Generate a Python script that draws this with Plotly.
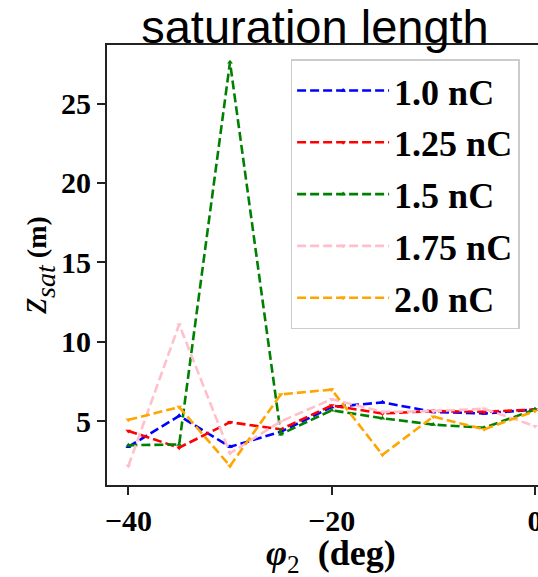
import plotly.graph_objects as go

# Phase scan (deg) and saturation length (m) for each bunch charge
phi2 = [-40, -35, -30, -25, -20, -15, -10, -5, 0]

z_sat_1p0 = [3.4, 5.35, 3.4, 4.35, 5.9, 6.2, 5.6, 5.5, 5.75]
z_sat_1p25 = [4.4, 3.35, 4.95, 4.5, 6.0, 5.5, 5.65, 5.6, 5.75]
z_sat_1p5 = [3.5, 3.55, 27.6, 4.2, 5.7, 5.2, 4.8, 4.6, 5.75]
z_sat_1p75 = [2.2, 11.1, 3.0, 5.0, 6.4, 5.6, 5.65, 5.8, 4.7]
z_sat_2p0 = [5.1, 5.9, 2.2, 6.7, 7.0, 2.9, 5.3, 4.5, 5.65]

labels = ["1.0 nC", "1.25 nC", "1.5 nC", "1.75 nC", "2.0 nC"]
series = [z_sat_1p0, z_sat_1p25, z_sat_1p5, z_sat_1p75, z_sat_2p0]
colors = ["blue", "red", "green", "pink", "orange"]
symbols = ["triangle-up", "triangle-down", "triangle-up", "triangle-down", "triangle-down"]

x_ticks = [-40, -20, 0]
y_ticks = [5, 10, 15, 20, 25]

fig = go.Figure()
for name, ys, col, sym in zip(labels, series, colors, symbols):
    fig.add_trace(go.Scatter(
        x=phi2, y=ys, name=name, mode="lines+markers",
        legendgroup=name,
        line=dict(color=col, width=2.6, dash="9px,4px"),
        marker=dict(symbol=sym, size=5, color=col),
    ))

serif = "Liberation Serif"
axis_common = dict(
    showline=True, linecolor="#222222", linewidth=2,
    ticks="outside", ticklen=8, tickwidth=1.5, tickcolor="#222222",
    showgrid=False, zeroline=False, automargin=False,
    ticklabeloverflow="allow",
    tickfont=dict(family=serif, size=30, color="black", weight="bold"),
)

fig.update_layout(
    width=538, height=577,
    template="none",
    paper_bgcolor="white", plot_bgcolor="white",
    margin=dict(l=107, r=0, t=45, b=92),
    xaxis=dict(range=[-42.1, 0.3], tickvals=x_ticks, mirror=True, **axis_common),
    yaxis=dict(range=[1.0, 28.68], tickvals=y_ticks, mirror=False, **axis_common),
    title=dict(
        text="saturation length",
        font=dict(family="Liberation Sans", size=47, color="black"),
        x=0.4826, xref="paper", xanchor="center",
        y=1 - 27 / 577, yref="container", yanchor="middle",
    ),
    legend=dict(
        x=0.426, y=0.968, xanchor="left", yanchor="top",
        bgcolor="white", bordercolor="#cccccc", borderwidth=1.5,
        font=dict(family=serif, size=36, color="black", weight="bold"),
        tracegroupgap=2, itemwidth=92,
    ),
    showlegend=True,
)

fig.add_annotation(
    text=('<span style="font-size:40px"><i>z</i><sub><i>sat</i></sub></span>'
          ' <b>(m)</b>'),
    xref="paper", yref="paper", x=-0.166, y=0.5,
    xanchor="center", yanchor="middle", textangle=-90, showarrow=False,
    font=dict(family=serif, size=28, color="black"),
)
fig.add_annotation(
    text="<b><i>φ</i></b><sub>2</sub>  <b>(deg)</b>",
    xref="paper", yref="paper", x=0.52, y=-0.161,
    xanchor="center", yanchor="middle", showarrow=False,
    font=dict(family=serif, size=36, color="black"),
)

fig.write_html("out.html")
